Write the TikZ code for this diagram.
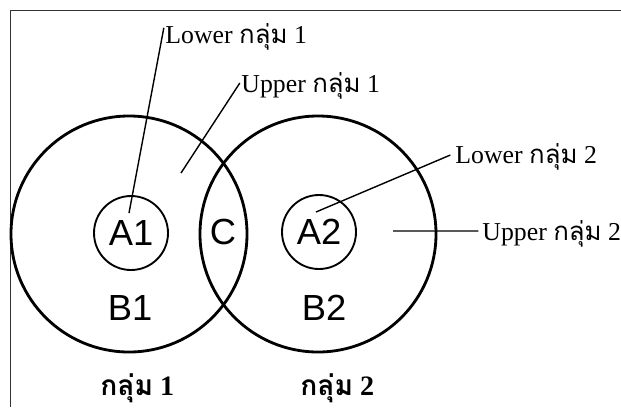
\documentclass[tikz,border=0pt]{standalone}
\usepackage{fontspec}
\setmainfont{Liberation Serif}
\setsansfont{Liberation Sans}
\newfontfamily\thaifont[Script=Thai]{Loma}
\usepackage{tikz}

\begin{document}
\begin{tikzpicture}[x=0.03cm, y=-0.03cm, thick,
    bigring/.style={circle, draw, line width=2.4pt, minimum size=7.08cm, inner sep=0pt},
    smallring/.style={circle, draw, line width=1.6pt, minimum size=2.22cm, inner sep=0pt,
      font=\sffamily\fontsize{31}{31}\selectfont},
    letter/.style={font=\sffamily\fontsize{31}{31}\selectfont, inner sep=0pt},
    tag/.style={font=\fontsize{22}{22}\selectfont, inner sep=0pt, anchor=base west},
    group/.style={font=\bfseries\fontsize{24}{24}\selectfont, inner sep=0pt, anchor=base west},
    leader/.style={line width=1.2pt}]
    \useasboundingbox (0,0) rectangle (621,407);
    % Frame (top and left edge only)
    \draw[line width=0.7pt, black!80] (621,10) -- (10,10) -- (10,407);

    % The two groups
    \node[bigring] (group one) at (129,234) {};
    \node[bigring] (group two) at (318,234) {};

    % Inner parts
    \node[smallring] (a one) at (131,233) {A1};
    \node[smallring] (a two) at (319,232) {A2};
    \node[letter] (c) at (223,232) {C};
    \node[letter] (b one) at (130,308) {B1};
    \node[letter] (b two) at (324,308) {B2};

    % Points the leaders run to
    \coordinate (lower one end) at (129,213);
    \coordinate (upper one end) at (181,173);
    \coordinate (lower two end) at (316,212);
    \coordinate (upper two end) at (393,231);

    % Labels
    \node[tag] (lower one) at (165,43) {Lower {\thaifont กลุ่ม} 1};
    \node[tag] (upper one) at (241,92) {Upper {\thaifont กลุ่ม} 1};
    \node[tag] (lower two) at (455,163) {Lower {\thaifont กลุ่ม} 2};
    \node[tag] (upper two) at (482,240) {Upper {\thaifont กลุ่ม} 2};
    \node[group] (name one) at (100,395) {{\thaifont กลุ่ม} 1};
    \node[group] (name two) at (300,395) {{\thaifont กลุ่ม} 2};

    % Leaders
    \draw[leader] ([xshift=-1pt, yshift=13pt]lower one.base west) -- (lower one end);
    \draw[leader] ([xshift=-1pt, yshift=7.7pt]upper one.base west) -- (upper one end);
    \draw[leader] ([xshift=-4pt, yshift=6.8pt]lower two.base west) -- (lower two end);
    \draw[leader] ([xshift=-3pt, yshift=7.7pt]upper two.base west) -- (upper two end);
\end{tikzpicture}
\end{document}
